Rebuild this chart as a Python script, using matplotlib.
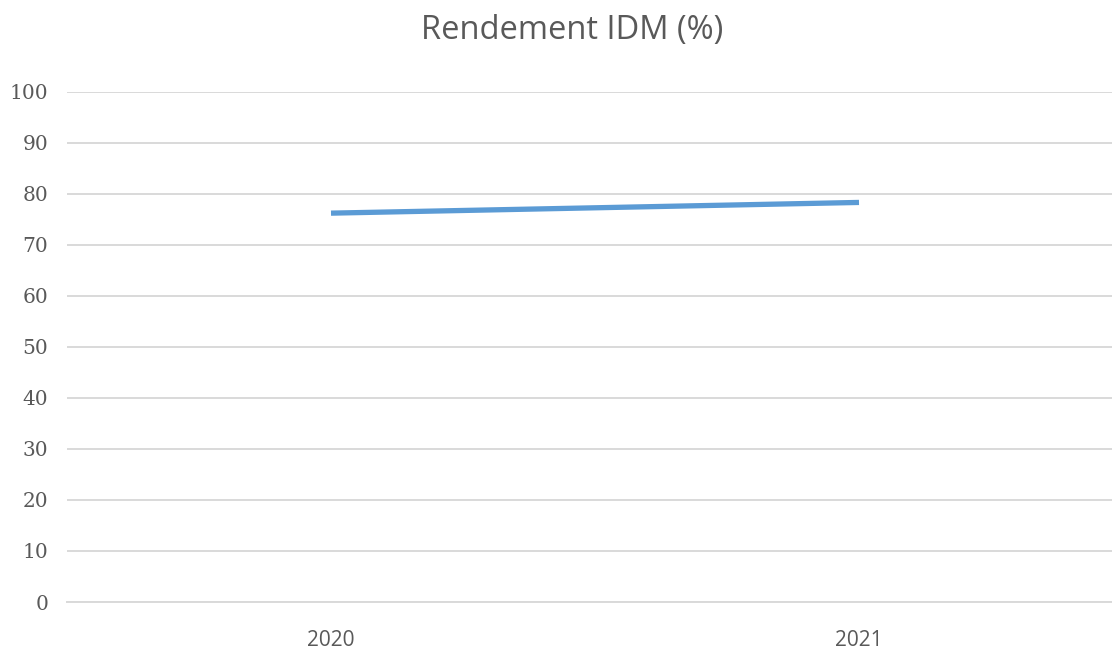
import matplotlib
matplotlib.use("Agg")
import matplotlib.pyplot as plt

years = ["2020", "2021"]
rendement = [76.2, 78.3]
y_ticks = [0, 10, 20, 30, 40, 50, 60, 70, 80, 90, 100]
title = "Rendement IDM (%)"

W, H = 1112, 652
fig = plt.figure(figsize=(W / 100, H / 100), dpi=100)
left, right = 67, 1123
top, bottom = 91.7, 602
ax = fig.add_axes([left / W, 1 - bottom / H, (right - left) / W, (bottom - top) / H])

x = list(range(len(years)))
ax.plot(x, rendement, color="#5B9BD5", linewidth=3.8, solid_capstyle="butt", zorder=3)

ax.set_xlim(-0.5, len(years) - 0.5)
ax.set_ylim(0, 100)
ax.set_yticks(y_ticks)
ax.set_yticklabels([str(v) for v in y_ticks], fontfamily="DejaVu Serif", fontsize=14.5, color="#595959")
ax.set_xticks(x)
ax.set_xticklabels(years, fontfamily="Open Sans", fontsize=15, color="#595959")
ax.tick_params(axis="both", length=0)
ax.tick_params(axis="y", pad=13.5)
ax.tick_params(axis="x", pad=20)
ax.grid(axis="y", color="#D9D9D9", linewidth=1.4)
ax.set_axisbelow(True)
for s in ax.spines.values():
    s.set_visible(False)
ax.spines["bottom"].set_visible(True)
ax.spines["bottom"].set_color("#D9D9D9")
ax.spines["bottom"].set_linewidth(1.4)

fig.text(572 / W, 1 - 31 / H, title, ha="center", va="center", fontfamily="Open Sans",
         fontsize=23.5, color="#595959")

fig.savefig("out.png", dpi=100)
